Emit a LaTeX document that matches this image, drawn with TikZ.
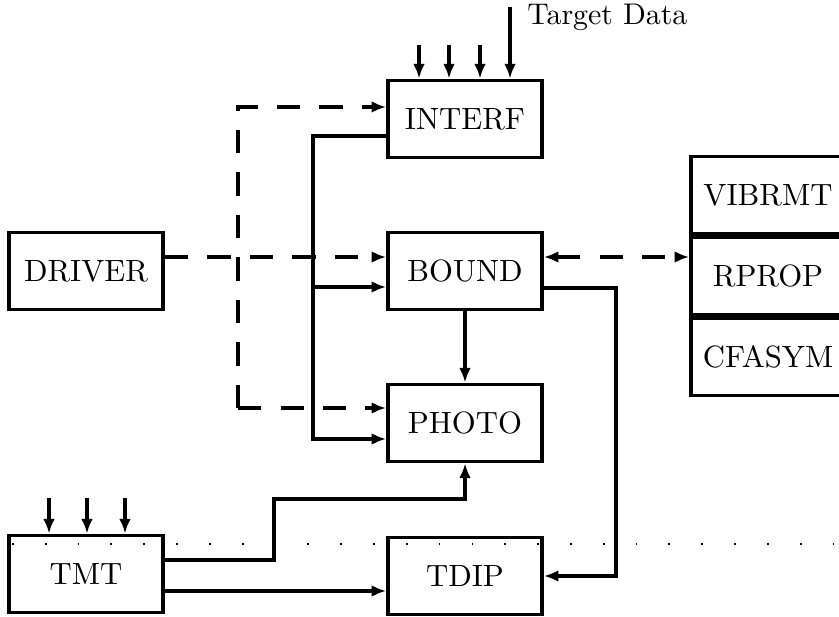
\documentclass[tikz,border=0pt]{standalone}
\usetikzlibrary{arrows.meta}
\begin{document}
\begin{tikzpicture}[x=.012cm,y=-.012cm,line width=1.15pt,>={Latex[length=5pt,width=4pt]},
  box/.style={draw,minimum width=1.85cm,minimum height=.93cm,inner sep=0pt,font=\fontsize{10.5}{12}\selectfont},
  dsh/.style={dash pattern=on 8pt off 6.5pt}]
  \useasboundingbox (0,0) rectangle (839,617);
  \draw[line width=.9pt,dash pattern=on .6pt off 10.6pt] (12,544)--(839,544);
  \node[box] (interf) at (465,119) {INTERF}; \node[box] (driver) at (86,271) {DRIVER};
  \node[box] (bound) at (465,271) {BOUND}; \node[box] (photo) at (465,423) {PHOTO};
  \node[box] (tmt) at (86,574) {TMT}; \node[box] (tdip) at (465,576) {TDIP};
  \node[box] (vibrmt) at (768,195) {VIBRMT};
  \node[box,anchor=north] (rprop) at (vibrmt.south) {RPROP};
  \node[box,anchor=north] (cfasym) at (rprop.south) {CFASYM};
  \coordinate (in1) at (419,45); \coordinate (in2) at (449,45); \coordinate (in3) at (480,45); \coordinate (tgt) at (510,7);
  \foreach \c in {in1,in2,in3,tgt} \draw[->] (\c)--(\c |- interf.north);
  \node[right,font=\fontsize{10.2}{12}\selectfont] (tgtlbl) at (516,17) {Target Data};
  \coordinate (m1) at (49,498); \coordinate (m2) at (87,498); \coordinate (m3) at (125,498);
  \foreach \c in {m1,m2,m3} \draw[->] (\c)--(\c |- tmt.north);
  \coordinate (dtop) at (238,107); \coordinate (dmid) at (238,257); \coordinate (dbot) at (238,408);
  \draw[dsh,->] (driver.east |- dmid)--(bound.west |- dmid);
  \draw[dsh,->] (dbot)--(dtop)--(interf.west |- dtop);
  \draw[dsh,->] (dbot)--(photo.west |- dbot);
  \draw[dsh,<->] (bound.east |- dmid)--(rprop.west |- dmid);
  \coordinate (stop) at (313,136); \coordinate (smid) at (313,287); \coordinate (sbot) at (313,439);
  \draw[->] (interf.west |- stop)--(stop)--(sbot)--(photo.west |- sbot);
  \draw[->] (smid)--(bound.west |- smid);
  \draw[->] (bound)--(photo);
  \coordinate (br) at (616,288); \draw[->] (bound.east |- br)--(br) |- (tdip.east);
  \coordinate (tp1) at (274,560); \coordinate (tp2) at (274,499);
  \draw[->] (tmt.east |- tp1)--(tp1)--(tp2) -| (photo.south);
  \coordinate (tt) at (200,591); \draw[->] (tmt.east |- tt)--(tdip.west |- tt);
\end{tikzpicture}
\end{document}
